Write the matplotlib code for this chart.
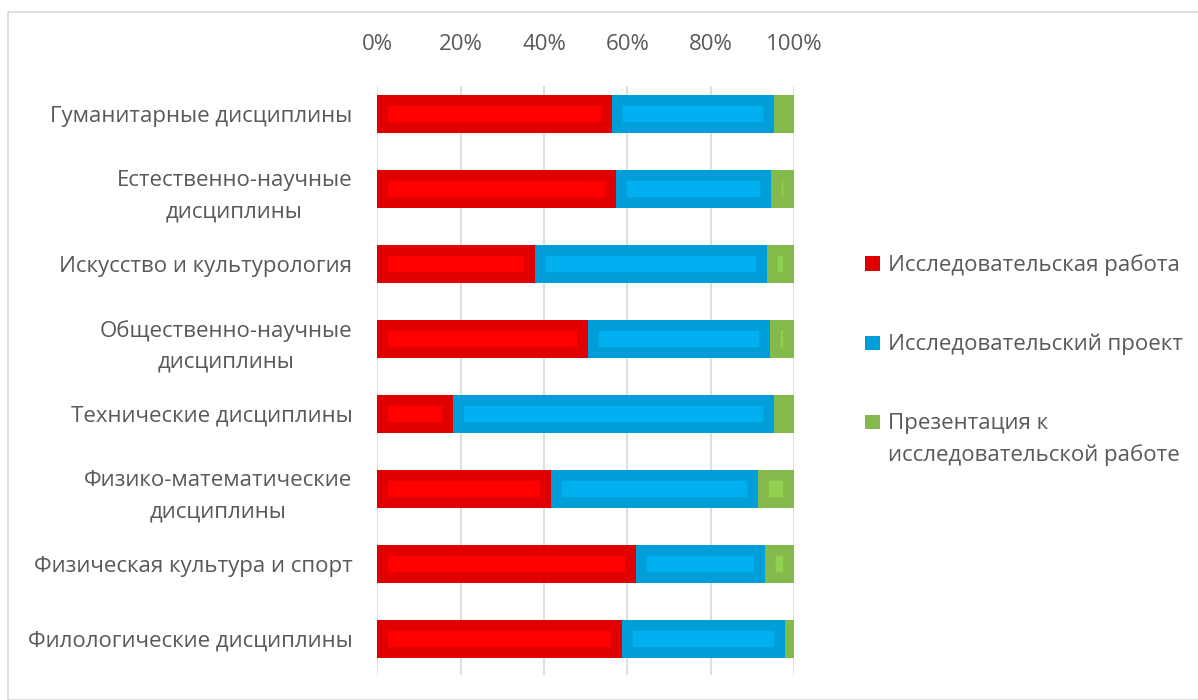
import matplotlib.pyplot as plt
from matplotlib.patches import Rectangle

categories = [
    "Гуманитарные дисциплины",
    "Естественно-научные\nдисциплины",
    "Искусство и культурология",
    "Общественно-научные\nдисциплины",
    "Технические дисциплины",
    "Физико-математические\nдисциплины",
    "Физическая культура и спорт",
    "Филологические дисциплины",
]
research_work = [56.4, 57.2, 37.8, 50.6, 18.1, 41.7, 62.1, 58.8]
research_project = [38.8, 37.2, 55.7, 43.6, 77.0, 49.7, 30.9, 39.0]
presentation = [4.8, 5.6, 6.5, 5.8, 4.9, 8.6, 7.0, 2.2]
series_names = [
    "Исследовательская работа",
    "Исследовательский проект",
    "Презентация к\nисследовательской работе",
]
x_ticks = [0, 20, 40, 60, 80, 100]

inner_colors = ["#FF0000", "#00B0F0", "#92D050"]
outer_colors = ["#E00000", "#009ED8", "#84BA4C"]
text_color = "#595959"
W, H = 1198, 700

plt.rcParams['font.family'] = ['Open Sans', 'DejaVu Sans']

fig = plt.figure(figsize=(W / 100, H / 100), dpi=100)
fig.patches.append(Rectangle((7.5 / W, 0), 1.2, 1 - 11.5 / H, transform=fig.transFigure,
                             fill=False, edgecolor="#D9D9D9", linewidth=1.2))

ax = fig.add_axes([377.3 / W, 1 - 675 / H, 416.7 / W, 589 / H])

y = list(range(len(categories)))
left = [0] * len(categories)
for vals, fc, ec in zip([research_work, research_project, presentation],
                        inner_colors, outer_colors):
    bars = ax.barh(y, vals, left=left, height=0.5, color=fc, edgecolor=ec,
                   linewidth=15.5, zorder=3)
    for b in bars:
        b.set_clip_path(b)
    left = [l + v for l, v in zip(left, vals)]

ax.set_xlim(0, 100)
ax.set_ylim(7.48, -0.373)
ax.set_xticks(x_ticks)
ax.set_xticklabels([f"{t}%" for t in x_ticks])
ax.xaxis.tick_top()
ax.tick_params(axis='x', length=0, pad=22, labelsize=16, labelcolor=text_color)
ax.set_yticks(y)
ax.set_yticklabels(categories, multialignment='center', linespacing=1.6)
ax.tick_params(axis='y', length=0, pad=18, labelsize=16, labelcolor=text_color)
ax.grid(axis='x', color="#D9D9D9", linewidth=1.2, zorder=0)
for s in ax.spines.values():
    s.set_visible(False)

# legend, drawn by hand so the marker sits on the first line of the label
marker_bottoms = [270.7, 350, 429]
text_baselines = [270.7, 350, 461.5]  # baseline of the last line of each label
for name, ec, mb, tb in zip(series_names, outer_colors, marker_bottoms, text_baselines):
    fig.patches.append(Rectangle((865 / W, 1 - mb / H), 15 / W, 14.5 / H,
                                 transform=fig.transFigure, facecolor=ec, edgecolor="none"))
    fig.text(887.5 / W, 1 - tb / H, name, fontsize=16, color=text_color,
             va='baseline', ha='left', linespacing=1.6)

fig.savefig("out.png", dpi=100)
